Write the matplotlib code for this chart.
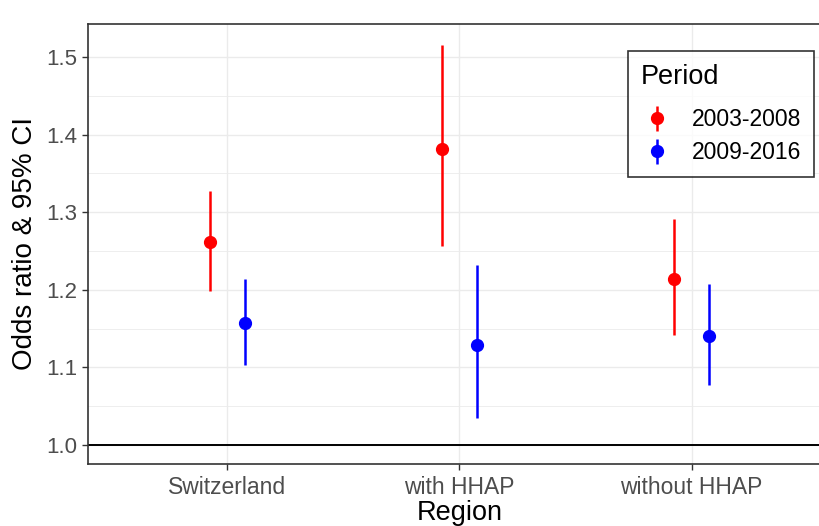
import matplotlib
matplotlib.use("Agg")
import matplotlib.pyplot as plt
from matplotlib.lines import Line2D
import numpy as np

plt.rcParams['font.family'] = ['Liberation Sans', 'DejaVu Sans']

regions = ["Switzerland", "with HHAP", "without HHAP"]
periods = ["2003-2008", "2009-2016"]
colors = ["#ff0000", "#0000ff"]

or_2003 = [1.262, 1.381, 1.214]
lo_2003 = [1.198, 1.257, 1.142]
hi_2003 = [1.327, 1.516, 1.291]

or_2009 = [1.157, 1.129, 1.140]
lo_2009 = [1.103, 1.035, 1.077]
hi_2009 = [1.214, 1.232, 1.207]

estimates = [or_2003, or_2009]
lowers = [lo_2003, lo_2009]
uppers = [hi_2003, hi_2009]

fig = plt.figure(figsize=(8.2, 5.26), dpi=100)
ax = fig.add_axes([88/820, 1 - 464/526, (831 - 88)/820, (464 - 24)/526])

x = np.arange(1, len(regions) + 1)
offsets = [-0.075, 0.075]

# major and minor grid lines
for yv in np.arange(1.0, 1.55, 0.05):
    major = abs(round(yv * 10) - yv * 10) < 1e-6
    ax.axhline(yv, color="#ebebeb", lw=1.0 if major else 0.6, zorder=0)
for xv in x:
    ax.axvline(xv, color="#ebebeb", lw=1.0, zorder=0)

# reference line at OR = 1
ax.axhline(1.0, color="black", lw=1.4, zorder=1)

for est, lo, hi, off, col in zip(estimates, lowers, uppers, offsets, colors):
    xs = x + off
    ax.vlines(xs, lo, hi, color=col, lw=1.8, zorder=2)
    ax.plot(xs, est, "o", color=col, ms=8.5, zorder=3)

ax.set_xlim(0.4, 3.6)
ax.set_ylim(0.9755, 1.5425)
ax.set_xticks(x)
ax.set_xticklabels(regions)
ax.set_yticks([1.0, 1.1, 1.2, 1.3, 1.4, 1.5])
ax.set_yticklabels(["1.0", "1.1", "1.2", "1.3", "1.4", "1.5"])
ax.tick_params(axis="both", colors="#333333", labelcolor="#4d4d4d",
               length=4, width=1.0)
ax.tick_params(axis="y", labelsize=16)
ax.tick_params(axis="x", labelsize=16.5, pad=5)

for side, sp in ax.spines.items():
    sp.set_color("#333333")
    sp.set_linewidth(1.2)
ax.spines["right"].set_visible(False)

ax.set_xlabel("Region", fontsize=19.5, labelpad=0)
ax.set_ylabel("Odds ratio & 95% CI", fontsize=20, labelpad=6)

# pointrange-style legend keys: vertical stroke with a dot on top
handles = []
for c in colors:
    stroke = Line2D([0], [0], color=c, marker="|", ms=18, mew=1.8, lw=0)
    dot = Line2D([0], [0], color=c, marker="o", ms=8.5, lw=0)
    handles.append((stroke, dot))

leg = ax.legend(handles, periods, title="Period", loc="upper left",
                bbox_to_anchor=((628 - 88)/743, 1 - (51 - 24)/440),
                borderaxespad=0,
                frameon=True, fancybox=False, fontsize=16.5, title_fontsize=19.5,
                borderpad=0.55, labelspacing=0.45, handletextpad=0.85,
                handlelength=1.4)
leg.get_frame().set_edgecolor("black")
leg.get_frame().set_linewidth(1.2)
leg._legend_box.align = "left"
leg._legend_box.sep = 13

fig.savefig("out.png", dpi=100)
